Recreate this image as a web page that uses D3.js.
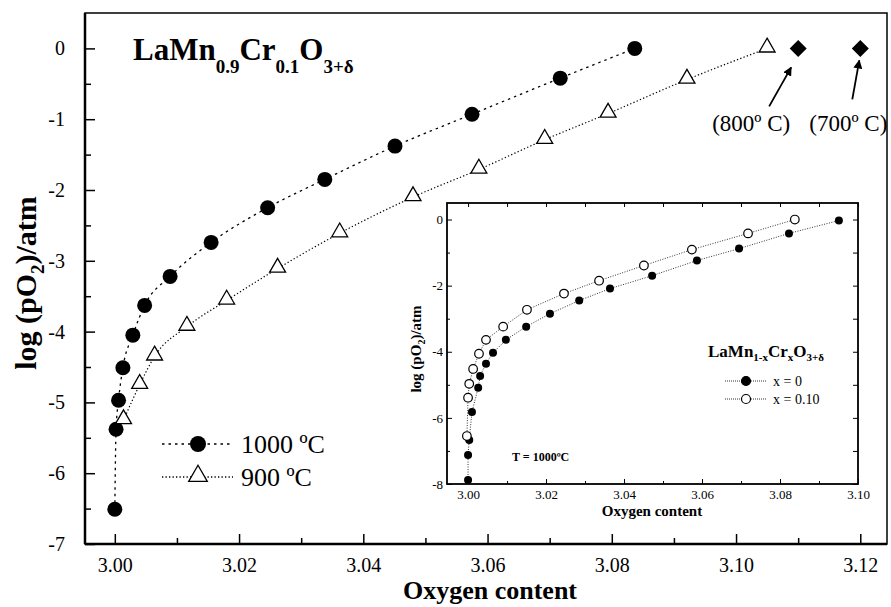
<!DOCTYPE html>
<html>
<head>
<meta charset="utf-8">
<script src="https://cdn.jsdelivr.net/npm/d3@7"></script>
<style>
body { margin: 0; background: #fff; }
text { font-family: "Liberation Serif", "Times New Roman", serif; }
</style>
</head>
<body>
<div id="chart"></div>
<script>
// main plot: 1000 C (filled circles)
var oxy1000 = [3.0000, 3.0002, 3.0006, 3.0013, 3.0029, 3.0048, 3.0089, 3.0155, 3.0246, 3.0338, 3.0451, 3.0575, 3.0717, 3.0837];
var logp1000 = [-6.51, -5.38, -4.97, -4.51, -4.05, -3.63, -3.22, -2.74, -2.25, -1.85, -1.38, -0.93, -0.42, 0.0];
// main plot: 900 C (open triangles)
var oxy900 = [3.0014, 3.0040, 3.0064, 3.0116, 3.0180, 3.0262, 3.0362, 3.0480, 3.0586, 3.0692, 3.0794, 3.0921, 3.1050];
var logp900 = [-5.25, -4.75, -4.35, -3.93, -3.56, -3.11, -2.61, -2.10, -1.71, -1.29, -0.92, -0.44, 0.0];
// single points at 800 and 700 C
var oxyHigh = [3.110, 3.120];
var logpHigh = [0, 0];
var highLabels = ["(800º C)", "(700º C)"];

// inset: x = 0 (filled) at 1000 C
var oxyX0 = [3.0000, 3.0000, 3.0003, 3.0010, 3.0026, 3.0031, 3.0046, 3.0064, 3.0097, 3.0149, 3.0210, 3.0285, 3.0364, 3.0472, 3.0587, 3.0695, 3.0823, 3.0951];
var logpX0 = [-7.88, -7.12, -6.67, -5.82, -5.09, -4.73, -4.36, -4.03, -3.64, -3.24, -2.85, -2.45, -2.09, -1.70, -1.24, -0.88, -0.42, -0.03];
// inset: x = 0.10 (open) at 1000 C
var oxyX10 = [2.9997, 3.0000, 3.0003, 3.0013, 3.0028, 3.0046, 3.0090, 3.0151, 3.0246, 3.0336, 3.0451, 3.0574, 3.0718, 3.0838];
var logpX10 = [-6.55, -5.39, -4.97, -4.52, -4.06, -3.64, -3.24, -2.73, -2.24, -1.85, -1.39, -0.91, -0.42, 0.0];

var xTicks = [3.00, 3.02, 3.04, 3.06, 3.08, 3.10, 3.12];
var yTicks = [0, -1, -2, -3, -4, -5, -6, -7];
var insetXTicks = [3.00, 3.02, 3.04, 3.06, 3.08, 3.10];
var insetYTicks = [0, -2, -4, -6, -8];

function zip(a, b) { return a.map(function(d, i) { return [d, b[i]]; }); }

var svg = d3.select('#chart').append('svg')
    .attr('width', 891)
    .attr('height', 607);

var defs = svg.append('defs');
defs.append('marker')
    .attr('id', 'arrow')
    .attr('viewBox', '0 0 10 10')
    .attr('refX', 9).attr('refY', 5)
    .attr('markerWidth', 5).attr('markerHeight', 5)
    .attr('orient', 'auto')
    .append('path').attr('d', 'M0,0L10,5L0,10z').attr('fill', '#000');

// ---------- main plot ----------
var x = d3.scaleLinear().domain([2.9952, 3.1243]).range([85, 887]);
var y = d3.scaleLinear().domain([0.5, -7]).range([13, 544]);

svg.append('rect')
    .attr('x', 85).attr('y', 13)
    .attr('width', 887 - 85).attr('height', 544 - 13)
    .attr('fill', 'none').attr('stroke', '#000').attr('stroke-width', 1.5);

var xMinor = d3.range(3.01, 3.125, 0.02);
var yMinor = d3.range(-0.5, -7, -1);

function styleAxis(g, size) {
    g.select('.domain').remove();
    g.selectAll('.tick line').attr('stroke', '#000').attr('stroke-width', 1.5);
    g.selectAll('text').attr('fill', '#000').style('font-size', size);
}

svg.append('g').attr('transform', 'translate(0,544)')
    .call(d3.axisBottom(x).tickValues(xTicks).tickSize(-10).tickPadding(14).tickFormat(d3.format('.2f')))
    .call(styleAxis, '20px');
svg.append('g').attr('transform', 'translate(0,544)')
    .call(d3.axisBottom(x).tickValues(xMinor).tickSize(-6).tickFormat(''))
    .call(styleAxis, '20px');
svg.append('g').attr('transform', 'translate(85,0)')
    .call(d3.axisLeft(y).tickValues(yTicks).tickSize(-10).tickPadding(20).tickFormat(function(d) { return String(d); }))
    .call(styleAxis, '20px');
svg.append('g').attr('transform', 'translate(85,0)')
    .call(d3.axisLeft(y).tickValues(yMinor).tickSize(-6).tickFormat(''))
    .call(styleAxis, '20px');

// thicker axis lines
svg.append('line').attr('x1', 85).attr('x2', 85).attr('y1', 13).attr('y2', 544).attr('stroke', '#000').attr('stroke-width', 2.5);
svg.append('line').attr('x1', 85).attr('x2', 887).attr('y1', 544).attr('y2', 544).attr('stroke', '#000').attr('stroke-width', 2.5);

var line = d3.line().x(function(d) { return x(d[0]); }).y(function(d) { return y(d[1]); }).curve(d3.curveMonotoneX);

svg.append('path').datum(zip(oxy1000, logp1000))
    .attr('d', line).attr('fill', 'none').attr('stroke', '#000')
    .attr('stroke-width', 1.3).attr('stroke-dasharray', '2.5,4');
svg.append('path').datum(zip(oxy900, logp900))
    .attr('d', line).attr('fill', 'none').attr('stroke', '#000')
    .attr('stroke-width', 1.2).attr('stroke-dasharray', '1.3,2.2');

var tri = d3.symbol().type(d3.symbolTriangle).size(110);
var dia = 'M0,-8.5L8.5,0L0,8.5L-8.5,0Z';

svg.selectAll('.c1000').data(zip(oxy1000, logp1000)).enter().append('circle')
    .attr('cx', function(d) { return x(d[0]); })
    .attr('cy', function(d) { return y(d[1]); })
    .attr('r', 7.5).attr('fill', '#000');

svg.selectAll('.t900').data(zip(oxy900, logp900)).enter().append('path')
    .attr('d', tri)
    .attr('transform', function(d) { return 'translate(' + x(d[0]) + ',' + (y(d[1]) - 1) + ')'; })
    .attr('fill', '#fff').attr('stroke', '#000').attr('stroke-width', 1.3);

svg.selectAll('.dia').data(zip(oxyHigh, logpHigh)).enter().append('path')
    .attr('d', dia)
    .attr('transform', function(d) { return 'translate(' + x(d[0]) + ',' + y(d[1]) + ')'; })
    .attr('fill', '#000');

// arrows and labels for 800 / 700 C
var arrowFrom = [[-29, 58], [-8, 51]];
var arrowTo = [[-7, 19], [-1, 12]];
svg.selectAll('.arr').data(zip(oxyHigh, logpHigh)).enter().append('line')
    .attr('x1', function(d, i) { return x(d[0]) + arrowFrom[i][0]; })
    .attr('y1', function(d, i) { return y(d[1]) + arrowFrom[i][1]; })
    .attr('x2', function(d, i) { return x(d[0]) + arrowTo[i][0]; })
    .attr('y2', function(d, i) { return y(d[1]) + arrowTo[i][1]; })
    .attr('stroke', '#000').attr('stroke-width', 1.8)
    .attr('marker-end', 'url(#arrow)');
var labelDx = [-47, -12];
svg.selectAll('.hl').data(zip(oxyHigh, logpHigh)).enter().append('text')
    .attr('x', function(d, i) { return x(d[0]) + labelDx[i]; })
    .attr('y', function(d) { return y(d[1]) + 83; })
    .attr('text-anchor', 'middle')
    .style('font-size', '23px')
    .text(function(d, i) { return highLabels[i]; });

// main title
var title = svg.append('text').attr('x', 133).attr('y', 60)
    .style('font-size', '31px').style('font-weight', 'bold');
title.append('tspan').text('LaMn');
title.append('tspan').attr('dy', 13).style('font-size', '19px').text('0.9');
title.append('tspan').attr('dy', -13).text('Cr');
title.append('tspan').attr('dy', 13).style('font-size', '19px').text('0.1');
title.append('tspan').attr('dy', -13).text('O');
title.append('tspan').attr('dy', 13).style('font-size', '19px').text('3+δ');

// axis titles
svg.append('text').attr('x', 490).attr('y', 599).attr('text-anchor', 'middle')
    .style('font-size', '26px').style('font-weight', 'bold').text('Oxygen content');
var yt = svg.append('text').attr('transform', 'translate(36,283) rotate(-90)').attr('text-anchor', 'middle')
    .style('font-size', '30px').style('font-weight', 'bold');
yt.append('tspan').text('log (pO');
yt.append('tspan').attr('dy', 8).style('font-size', '19px').text('2');
yt.append('tspan').attr('dy', -8).text(')/atm');

// main legend
var legItems = [
    { label: '1000 ºC', y: 444, dash: '2.5,4', sym: 'circle' },
    { label: '900 ºC', y: 477, dash: '1.3,2.2', sym: 'tri' }
];
legItems.forEach(function(it) {
    svg.append('line').attr('x1', 162).attr('x2', 233).attr('y1', it.y).attr('y2', it.y)
        .attr('stroke', '#000').attr('stroke-width', 1.3).attr('stroke-dasharray', it.dash);
    if (it.sym === 'circle') {
        svg.append('circle').attr('cx', 198).attr('cy', it.y).attr('r', 8).attr('fill', '#000');
    } else {
        svg.append('path').attr('d', d3.symbol().type(d3.symbolTriangle).size(150))
            .attr('transform', 'translate(198,' + (it.y - 1) + ')')
            .attr('fill', '#fff').attr('stroke', '#000').attr('stroke-width', 1.3);
    }
    svg.append('text').attr('x', 241).attr('y', it.y + 9).style('font-size', '26px').text(it.label);
});

// ---------- inset ----------
var ix = d3.scaleLinear().domain([2.9946, 3.10]).range([447, 858]);
var iy = d3.scaleLinear().domain([0.5, -8]).range([203, 484]);

var inset = svg.append('g');
inset.append('rect').attr('x', 447).attr('y', 203).attr('width', 858 - 447).attr('height', 484 - 203)
    .attr('fill', '#fff').attr('stroke', '#000').attr('stroke-width', 1.8);

var ixMinor = d3.range(3.01, 3.10, 0.02);
var iyMinor = [-1, -3, -5, -7];

inset.append('g').attr('transform', 'translate(0,484)')
    .call(d3.axisBottom(ix).tickValues(insetXTicks).tickSize(-5).tickPadding(6).tickFormat(d3.format('.2f')))
    .call(styleAxis, '13px');
inset.append('g').attr('transform', 'translate(0,484)')
    .call(d3.axisBottom(ix).tickValues(ixMinor).tickSize(-3).tickFormat(''))
    .call(styleAxis, '13px');
inset.append('g').attr('transform', 'translate(0,203)')
    .call(d3.axisTop(ix).tickValues(insetXTicks.concat(ixMinor)).tickSize(-4).tickFormat(''))
    .call(styleAxis, '13px');
inset.append('g').attr('transform', 'translate(447,0)')
    .call(d3.axisLeft(iy).tickValues(insetYTicks).tickSize(-5).tickPadding(4).tickFormat(function(d) { return String(d); }))
    .call(styleAxis, '13px');
inset.append('g').attr('transform', 'translate(447,0)')
    .call(d3.axisLeft(iy).tickValues(iyMinor).tickSize(-3).tickFormat(''))
    .call(styleAxis, '13px');
inset.append('g').attr('transform', 'translate(858,0)')
    .call(d3.axisRight(iy).tickValues(insetYTicks.concat(iyMinor)).tickSize(-5).tickFormat(''))
    .call(styleAxis, '13px');
inset.selectAll('.tick line').attr('stroke-width', 1);

var iline = d3.line().x(function(d) { return ix(d[0]); }).y(function(d) { return iy(d[1]); });

inset.append('path').datum(zip(oxyX0, logpX0)).attr('d', iline)
    .attr('fill', 'none').attr('stroke', '#333').attr('stroke-width', 1).attr('stroke-dasharray', '1,1.5');
inset.append('path').datum(zip(oxyX10, logpX10)).attr('d', iline)
    .attr('fill', 'none').attr('stroke', '#333').attr('stroke-width', 1).attr('stroke-dasharray', '1,1.5');

inset.selectAll('.ix0').data(zip(oxyX0, logpX0)).enter().append('circle')
    .attr('cx', function(d) { return ix(d[0]); })
    .attr('cy', function(d) { return iy(d[1]); })
    .attr('r', 4).attr('fill', '#000');
inset.selectAll('.ix10').data(zip(oxyX10, logpX10)).enter().append('circle')
    .attr('cx', function(d) { return ix(d[0]); })
    .attr('cy', function(d) { return iy(d[1]); })
    .attr('r', 4.3).attr('fill', '#fff').attr('stroke', '#000').attr('stroke-width', 1.2);

// inset titles
inset.append('text').attr('x', 652).attr('y', 516).attr('text-anchor', 'middle')
    .style('font-size', '15px').style('font-weight', 'bold').text('Oxygen content');
var iyt = inset.append('text').attr('transform', 'translate(421,349) rotate(-90)').attr('text-anchor', 'middle')
    .style('font-size', '15px').style('font-weight', 'bold');
iyt.append('tspan').text('log (pO');
iyt.append('tspan').attr('dy', 4).style('font-size', '10px').text('2');
iyt.append('tspan').attr('dy', -4).text(')/atm');

// inset legend
var il = inset.append('text').attr('x', 708).attr('y', 357).style('font-size', '17px').style('font-weight', 'bold');
il.append('tspan').text('LaMn');
il.append('tspan').attr('dy', 4).style('font-size', '11px').text('1-x');
il.append('tspan').attr('dy', -4).text('Cr');
il.append('tspan').attr('dy', 4).style('font-size', '11px').text('x');
il.append('tspan').attr('dy', -4).text('O');
il.append('tspan').attr('dy', 4).style('font-size', '11px').text('3+δ');

var iLeg = [
    { label: 'x = 0', y: 381, fill: '#000' },
    { label: 'x = 0.10', y: 399, fill: '#fff' }
];
iLeg.forEach(function(it) {
    inset.append('line').attr('x1', 725).attr('x2', 767).attr('y1', it.y).attr('y2', it.y)
        .attr('stroke', '#333').attr('stroke-width', 1).attr('stroke-dasharray', '1,1');
    inset.append('circle').attr('cx', 746).attr('cy', it.y).attr('r', 4.5)
        .attr('fill', it.fill).attr('stroke', '#000').attr('stroke-width', 1.2);
    inset.append('text').attr('x', 773).attr('y', it.y + 4.5).style('font-size', '14px').text(it.label);
});

inset.append('text').attr('x', 512).attr('y', 461)
    .style('font-size', '12px').style('font-weight', 'bold').text('T = 1000ºC');
</script>
</body>
</html>
